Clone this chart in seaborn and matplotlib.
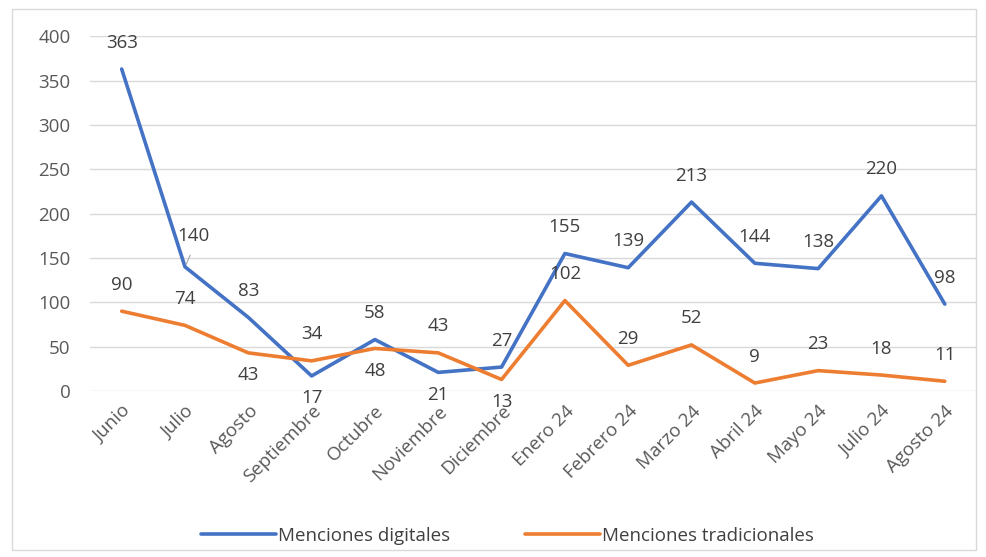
import matplotlib
matplotlib.use("Agg")
import matplotlib.pyplot as plt
import seaborn as sns
import pandas as pd
from matplotlib.patches import Rectangle

meses = ["Junio", "Julio", "Agosto", "Septiembre", "Octubre", "Noviembre",
         "Diciembre", "Enero 24", "Febrero 24", "Marzo 24", "Abril 24",
         "Mayo 24", "Julio 24", "Agosto 24"]
digitales = [363, 140, 83, 17, 58, 21, 27, 155, 139, 213, 144, 138, 220, 98]
tradicionales = [90, 74, 43, 34, 48, 43, 13, 102, 29, 52, 9, 23, 18, 11]

serie_dig = "Menciones digitales"
serie_trad = "Menciones tradicionales"

# label placement: 1 = above the point, -1 = below
pos_dig = [1, 1, 1, -1, 1, -1, 1, 1, 1, 1, 1, 1, 1, 1]
pos_trad = [1, 1, -1, 1, -1, 1, -1, 1, 1, 1, 1, 1, 1, 1]

df = pd.DataFrame({
    "mes": meses * 2,
    "valor": digitales + tradicionales,
    "serie": [serie_dig] * len(meses) + [serie_trad] * len(meses),
})

sns.set_theme(style="white")
plt.rcParams["font.family"] = ["Open Sans", "DejaVu Sans"]
fs = 13.5

fig = plt.figure(figsize=(9.86, 5.57), dpi=100)
ax = fig.add_axes([0.0913, 0.298, 0.899, 0.637])

colores = {serie_dig: "#4472C4", serie_trad: "#ED7D31"}
sns.lineplot(data=df, x="mes", y="valor", hue="serie", palette=colores,
             linewidth=2.6, sort=False, ax=ax, legend=False)

ax.set_xlim(-0.5, len(meses) - 0.5)
ax.set_ylim(0, 400)
ax.set_yticks(range(0, 401, 50))
ax.yaxis.grid(True, color="#D9D9D9", linewidth=1)
ax.set_axisbelow(True)
for s in ax.spines.values():
    s.set_visible(False)
ax.set_xlabel("")
ax.set_ylabel("")
ax.tick_params(axis="y", length=0, pad=14, labelsize=fs, labelcolor="#595959")
ax.tick_params(axis="x", length=0, pad=8, labelsize=fs, labelcolor="#595959")
ax.set_xticks(range(len(meses)))
ax.set_xticklabels(meses, rotation=45, ha="right", rotation_mode="anchor")

for i, (v, p) in enumerate(zip(digitales, pos_dig)):
    dx = 6 if i == 1 else 0
    dy = 22 if i == 1 else (19 if p > 0 else -16)
    ax.annotate(str(v), (i, v), xytext=(dx, dy), textcoords="offset points",
                ha="center", va="center", fontsize=fs, color="#404040")
for i, (v, p) in enumerate(zip(tradicionales, pos_trad)):
    dy = 19 if p > 0 else -16
    ax.annotate(str(v), (i, v), xytext=(0, dy), textcoords="offset points",
                ha="center", va="center", fontsize=fs, color="#404040")

# small leader line for the Julio label
ax.annotate("", xy=(1, 140), xytext=(1.1, 156),
            arrowprops=dict(arrowstyle="-", color="#A6A6A6", lw=0.8))

handles = [plt.Line2D([], [], color=colores[serie_dig], lw=2.6),
           plt.Line2D([], [], color=colores[serie_trad], lw=2.6)]
fig.legend(handles, [serie_dig, serie_trad], loc="center",
           bbox_to_anchor=(0.515, 0.038), ncol=2, frameon=False,
           handlelength=4, handletextpad=0.1, columnspacing=4,
           prop={"size": fs})
for t in fig.legends[0].get_texts():
    t.set_color("#404040")

fig.patches.append(Rectangle((0.012, 0.012), 0.978, 0.972,
                             transform=fig.transFigure, fill=False,
                             edgecolor="#D9D9D9", lw=1))

fig.savefig("out.png", dpi=100)
